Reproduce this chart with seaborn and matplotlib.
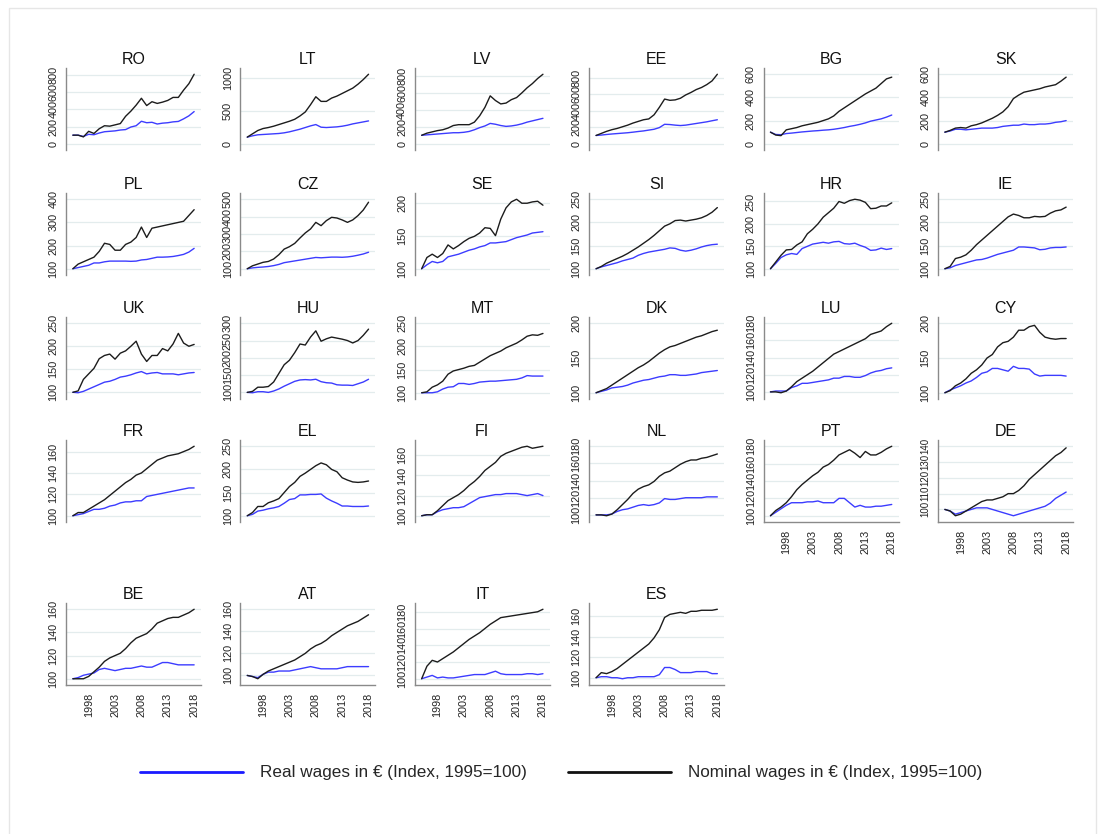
import matplotlib
matplotlib.use("Agg")
import matplotlib.pyplot as plt
from matplotlib.lines import Line2D
from matplotlib.patches import Rectangle
import numpy as np
import pandas as pd
import seaborn as sns

years = list(range(1995, 2019))

ro_real = [100,100,85,110,105,125,140,145,150,160,165,195,210,262,245,250,230,240,245,255,260,290,325,375]
ro_nom = [100,100,80,145,120,175,210,205,220,235,320,380,450,530,445,490,470,485,505,540,540,625,700,810]
lt_real = [100,120,135,140,145,150,155,165,180,200,220,245,270,290,250,245,250,255,265,280,300,315,330,345]
lt_nom = [100,150,200,230,245,265,290,315,340,370,420,480,590,710,640,640,690,720,760,800,840,900,970,1050]
lv_real = [100,105,110,115,120,125,130,130,135,145,165,190,210,240,230,215,205,210,220,235,255,270,285,300]
lv_nom = [100,125,140,155,165,185,215,225,225,225,255,330,430,565,510,470,480,520,545,600,660,710,770,820]
ee_real = [100,105,112,118,123,128,133,140,148,155,165,175,195,235,232,225,220,225,235,245,255,265,278,290]
ee_nom = [100,125,150,170,185,205,225,250,270,290,300,350,440,540,525,530,550,590,620,655,680,715,760,840]
bg_real = [100,80,78,88,92,97,102,106,110,113,117,120,125,132,140,150,158,168,180,195,205,215,230,248]
bg_nom = [100,75,70,120,130,140,155,165,175,185,200,215,240,280,310,340,370,400,430,455,480,520,560,575]
sk_real = [100,110,125,125,120,125,130,135,135,135,140,150,155,160,160,170,165,165,170,170,175,185,190,200]
sk_nom = [100,115,135,140,135,155,165,180,200,220,245,275,320,390,420,445,455,465,475,490,500,510,540,575]

pl_real = [100,105,110,115,125,125,130,133,133,133,133,132,133,138,140,145,150,150,151,153,157,162,172,188]
pl_nom = [100,120,130,140,150,175,210,205,180,180,205,215,235,280,235,275,280,285,290,295,300,305,330,355]
cz_real = [100,105,108,110,113,118,125,135,140,145,150,155,160,165,163,165,167,167,166,168,172,178,185,195]
cz_nom = [100,117,127,137,142,156,181,213,227,246,277,306,329,367,348,377,396,392,381,367,381,406,438,483]
se_real = [100,106,111,109,111,118,120,122,125,128,130,133,135,139,139,140,141,144,147,149,151,154,155,156]
se_nom = [100,117,122,117,123,136,130,135,141,146,149,154,162,161,150,175,192,201,205,199,199,201,202,196]
si_real = [100,104,107,110,113,117,120,123,129,133,136,138,140,142,145,144,140,138,140,143,147,150,152,153]
si_nom = [100,105,112,117,122,127,133,140,147,155,163,172,182,192,197,204,205,203,205,207,210,215,222,232]
hr_real = [100,112,125,131,134,132,145,150,155,157,159,157,160,161,156,155,157,152,148,141,142,146,143,145]
hr_nom = [100,115,130,142,143,153,160,178,188,200,215,225,235,250,246,252,255,253,248,234,235,240,240,247]
ie_real = [100,102,107,110,113,116,119,120,123,127,131,134,137,140,147,147,146,145,141,142,145,146,146,147]
ie_nom = [100,105,122,125,130,140,152,162,172,182,192,202,212,218,215,210,210,213,212,213,220,225,227,233]

uk_real = [100,99,102,107,112,117,122,124,128,133,135,138,142,145,140,142,143,140,140,140,138,140,142,143]
uk_nom = [100,103,128,140,152,173,180,183,172,185,190,200,211,183,167,180,180,195,190,205,228,207,200,204]
hu_real = [100,99,102,102,100,104,110,118,125,132,136,137,136,138,131,128,127,122,121,121,120,125,130,138]
hu_nom = [100,103,115,115,117,130,155,180,193,215,240,237,260,278,248,255,260,257,254,250,243,250,265,283]
mt_real = [100,100,100,102,108,112,113,120,120,118,120,123,124,125,125,126,127,128,129,132,137,136,136,136]
mt_nom = [100,102,112,117,125,140,147,150,153,157,159,166,173,180,185,190,197,202,207,214,222,225,224,228]
dk_real = [100,102,104,107,108,109,111,114,116,118,119,121,123,124,126,126,125,125,126,127,129,130,131,132]
dk_nom = [100,103,106,111,116,121,126,131,136,140,145,151,157,162,166,168,171,174,177,180,182,185,188,190]
lu_real = [100,101,101,101,105,107,110,110,111,112,113,114,116,116,118,118,117,117,119,122,124,125,127,128]
lu_nom = [100,100,99,101,106,112,116,120,124,129,134,139,144,147,150,153,156,159,162,167,169,171,176,180]
cy_real = [100,104,107,110,114,117,122,128,130,135,135,133,131,138,135,135,134,127,124,125,125,125,125,124]
cy_nom = [100,103,110,114,120,128,133,140,150,155,166,172,174,180,190,190,195,197,187,180,178,177,178,178]

fr_real = [100,101,102,104,106,106,107,109,110,112,113,113,114,114,118,119,120,121,122,123,124,125,126,126]
fr_nom = [100,103,103,106,109,112,115,119,123,127,131,134,138,140,144,148,152,154,156,157,158,160,162,165]
el_real = [100,103,110,112,115,117,120,127,135,137,145,145,146,146,147,138,132,127,121,121,120,120,120,121]
el_nom = [100,107,120,120,128,132,137,150,163,172,185,192,200,208,214,210,200,195,182,177,173,172,173,175]
fi_real = [100,101,101,104,106,107,108,108,109,112,115,118,119,120,121,121,122,122,122,121,120,121,122,120]
fi_nom = [100,101,101,105,110,115,118,121,125,130,134,139,145,149,153,159,162,164,166,168,169,167,168,169]
nl_real = [100,100,100,101,104,106,107,109,111,112,111,112,114,119,118,118,119,120,120,120,120,121,121,121]
nl_nom = [100,100,99,101,106,112,118,125,130,133,135,139,145,149,151,155,159,162,164,164,166,167,169,171]
pt_real = [100,104,108,112,115,115,115,116,116,117,115,115,115,120,120,115,110,112,110,110,111,111,112,113]
pt_nom = [100,106,110,115,122,130,136,141,146,150,156,159,164,170,173,176,172,167,174,170,170,173,177,180]
de_real = [100,99,97,98,99,100,101,101,101,100,99,98,97,96,97,98,99,100,101,102,104,107,109,111]
de_nom = [100,99,96,97,99,101,103,105,106,106,107,108,110,110,112,115,119,122,125,128,131,134,136,139]

be_real = [100,101,103,104,105,108,109,108,107,108,109,109,110,111,110,110,112,114,114,113,112,112,112,112]
be_nom = [100,100,100,102,106,110,115,118,120,122,126,131,135,137,139,143,148,150,152,153,153,155,157,160]
at_real = [100,99,98,101,103,103,104,104,104,105,106,107,108,107,106,106,106,106,107,108,108,108,108,108]
at_nom = [100,99,97,101,104,106,108,110,112,114,117,120,124,127,129,132,136,139,142,145,147,149,152,155]
it_real = [100,102,104,101,102,101,101,102,103,104,105,105,105,107,109,106,105,105,105,105,106,106,105,106]
it_nom = [100,115,122,120,124,128,132,137,142,147,151,155,160,165,169,173,174,175,176,177,178,179,180,183]
es_real = [100,101,101,100,100,99,100,100,101,101,101,101,103,110,110,108,105,105,105,106,106,106,104,104]
es_nom = [100,105,104,106,109,113,117,121,125,129,133,139,147,159,162,163,164,163,165,165,166,166,166,167]

countries = ["RO", "LT", "LV", "EE", "BG", "SK",
             "PL", "CZ", "SE", "SI", "HR", "IE",
             "UK", "HU", "MT", "DK", "LU", "CY",
             "FR", "EL", "FI", "NL", "PT", "DE",
             "BE", "AT", "IT", "ES"]

yticks = {
    "RO": [0, 200, 400, 600, 800], "LT": [0, 500, 1000], "LV": [0, 200, 400, 600, 800],
    "EE": [0, 200, 400, 600, 800], "BG": [0, 200, 400, 600], "SK": [0, 200, 400, 600],
    "PL": [100, 200, 300, 400], "CZ": [100, 200, 300, 400, 500], "SE": [100, 150, 200],
    "SI": [100, 150, 200, 250], "HR": [100, 150, 200, 250], "IE": [100, 150, 200, 250],
    "UK": [100, 150, 200, 250], "HU": [100, 150, 200, 250, 300], "MT": [100, 150, 200, 250],
    "DK": [100, 150, 200], "LU": [100, 120, 140, 160, 180], "CY": [100, 150, 200],
    "FR": [100, 120, 140, 160], "EL": [100, 150, 200, 250], "FI": [100, 120, 140, 160],
    "NL": [100, 120, 140, 160, 180], "PT": [100, 120, 140, 160, 180], "DE": [100, 110, 120, 130, 140],
    "BE": [100, 120, 140, 160], "AT": [100, 120, 140, 160], "IT": [100, 120, 140, 160, 180],
    "ES": [100, 120, 140, 160],
}
xticks = [1998, 2003, 2008, 2013, 2018]

real_label = "Real wages in € (Index, 1995=100)"
nom_label = "Nominal wages in € (Index, 1995=100)"

# long table
series = {}
for c in countries:
    series[c] = (globals()[c.lower() + "_real"], globals()[c.lower() + "_nom"])
rows = []
for c in countries:
    r, n = series[c]
    for y, a, b in zip(years, r, n):
        rows.append((c, y, "real", a))
        rows.append((c, y, "nominal", b))
df = pd.DataFrame(rows, columns=["country", "year", "series", "value"])

sns.set_theme(style="white")
plt.rcParams["font.family"] = ["Liberation Sans", "DejaVu Sans"]

blue = "#3c3cff"
black = "#1c1c1c"
palette = {"real": blue, "nominal": black}

W, H = 1106, 834
fig = plt.figure(figsize=(W / 100, H / 100), dpi=100)
fig.patch.set_facecolor("white")

row_top = [68, 193, 317, 440, 603]
ax_h = 82
ax_w = 135
with_x = {"PT", "DE", "BE", "AT", "IT", "ES"}

for i, c in enumerate(countries):
    r, col = divmod(i, 6)
    left = 66 + 174.4 * col
    top = row_top[r]
    ax = fig.add_axes([left / W, 1 - (top + ax_h) / H, ax_w / W, ax_h / H])
    sub = df[df.country == c]
    sns.lineplot(data=sub, x="year", y="value", hue="series", hue_order=["real", "nominal"],
                 palette=palette, linewidth=1.0, legend=False, ax=ax)
    t = yticks[c]
    lo = min(t[0], sub.value.min())
    hi = max(t[-1], sub.value.max())
    pad = 0.09 * (hi - lo)
    ax.set_ylim(lo - pad, hi + pad)
    ax.set_xlim(1993.7, 2019.3)
    ax.set_yticks(t)
    fs = 7.0 if c == "DE" else 7.8
    ax.set_yticklabels([str(v) for v in t], rotation=90, va="center", fontsize=fs, color="#222222")
    ax.yaxis.grid(True, color="#e3eced", lw=0.9)
    ax.xaxis.grid(False)
    ax.set_axisbelow(True)
    ax.set_xlabel("")
    ax.set_ylabel("")
    ax.set_title(c, fontsize=11.5, pad=3, color="#111111")
    for s in ["top", "right"]:
        ax.spines[s].set_visible(False)
    ax.spines["left"].set_color("#8a8a8a")
    ax.spines["left"].set_linewidth(1.0)
    ax.tick_params(axis="y", length=4, width=0.8, color="#8a8a8a", pad=1.5)
    if c in with_x:
        ax.spines["bottom"].set_color("#8a8a8a")
        ax.spines["bottom"].set_linewidth(1.0)
        ax.set_xticks(xticks)
        ax.set_xticklabels([str(v) for v in xticks], rotation=90, fontsize=7.8, color="#222222")
        ax.tick_params(axis="x", length=4, width=0.8, color="#8a8a8a", pad=1.5)
    else:
        ax.spines["bottom"].set_visible(False)
        ax.set_xticks([])

handles = [Line2D([0], [0], color="#1a1aff", lw=2.0),
           Line2D([0], [0], color="#111111", lw=2.0)]
fig.legend(handles, [real_label, nom_label], loc="center left",
           bbox_to_anchor=(140 / W, 1 - 773 / H), ncol=2, frameon=False,
           fontsize=12.3, handlelength=6.0, handletextpad=1.0, columnspacing=2.45,
           borderpad=0, borderaxespad=0)

fig.add_artist(Rectangle((9 / W, -0.01), 1087 / W, 1 - 8 / H + 0.01, transform=fig.transFigure,
                         fill=False, edgecolor="#e6e6e6", lw=1.0))

fig.savefig("out.png", dpi=100)
